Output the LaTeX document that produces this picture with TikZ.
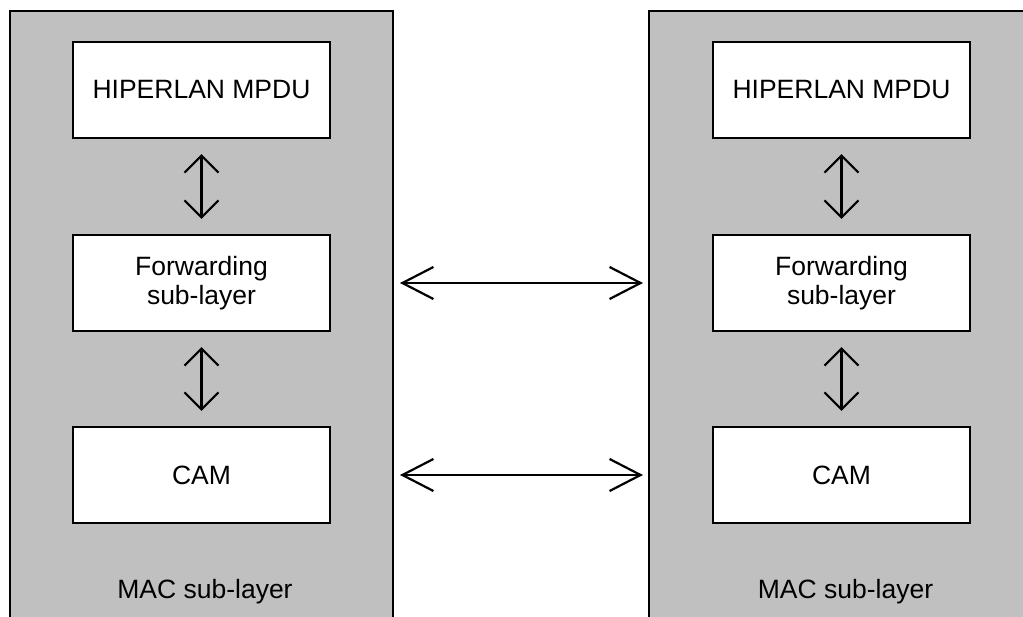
\documentclass[tikz,border=0pt]{standalone}
\usepackage{fontspec}
\setmainfont{Liberation Sans}
\usetikzlibrary{arrows.meta}
\definecolor{panelgray}{HTML}{C0C0C0}
\begin{document}
\begin{tikzpicture}[x=1pt,y=-1pt,
  layerbox/.style={draw=black,line width=2.2pt,fill=white,minimum width=257pt,minimum height=96pt,
    inner sep=0pt,align=center,font=\fontsize{26.5}{29}\selectfont},
  tag/.style={font=\fontsize{26.5}{29}\selectfont,anchor=base,inner sep=0pt},
  vlink/.style={line width=2.2pt,{Straight Barb[length=17pt,width=34pt]}-{Straight Barb[length=17pt,width=34pt]},
    shorten <=15pt,shorten >=15pt},
  hlink/.style={line width=2.2pt,{Straight Barb[length=31pt,width=32pt]}-{Straight Barb[length=31pt,width=32pt]},
    shorten <=7pt,shorten >=6pt}]
  \useasboundingbox (0,0) rectangle (1023,617);
  % two station panels, open at the bottom (and on the right for the second)
  \fill[panelgray] (10,11) rectangle (393,620);
  \fill[panelgray] (649,11) rectangle (1026,620);
  \draw[line width=2.2pt,line join=miter] (10,620) -- (10,11) -- (393,11) -- (393,620);
  \draw[line width=2.2pt,line join=miter] (649,620) -- (649,11) -- (1026,11);
  \coordinate (edgeL) at (393,0);
  \coordinate (edgeR) at (649,0);
  % left station
  \node[layerbox] (mpduL) at (201.5,90) {HIPERLAN MPDU};
  \node[layerbox] (fwdL) at (201.5,283) {Forwarding\\sub-layer};
  \node[layerbox] (camL) at (201.5,475) {CAM};
  \node[tag] (macL) at (205,598) {MAC sub-layer};
  % right station
  \node[layerbox] (mpduR) at (841.5,90) {HIPERLAN MPDU};
  \node[layerbox] (fwdR) at (841.5,283) {Forwarding\\sub-layer};
  \node[layerbox] (camR) at (841.5,475) {CAM};
  \node[tag] (macR) at (845.5,598) {MAC sub-layer};
  % vertical links inside each station
  \draw[vlink] (mpduL.south) -- (fwdL.north);
  \draw[vlink] (fwdL.south) -- (camL.north);
  \draw[vlink] (mpduR.south) -- (fwdR.north);
  \draw[vlink] (fwdR.south) -- (camR.north);
  % peer links between stations
  \draw[hlink] (fwdL -| edgeL) -- (fwdR -| edgeR);
  \draw[hlink] (camL -| edgeL) -- (camR -| edgeR);
\end{tikzpicture}
\end{document}
